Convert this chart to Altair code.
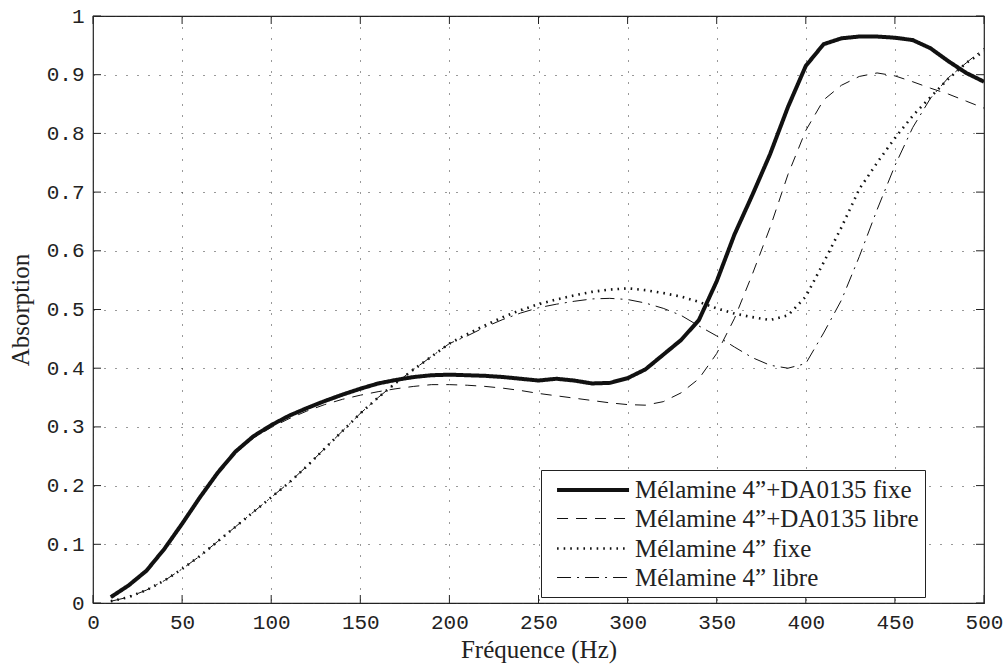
import altair as alt
import pandas as pd

freq = list(range(10, 501, 10))

fixe_da = [0.010, 0.030, 0.055, 0.092, 0.135, 0.180, 0.222, 0.258, 0.284, 0.303,
           0.319, 0.332, 0.344, 0.355, 0.365, 0.374, 0.380, 0.385, 0.388, 0.389,
           0.388, 0.387, 0.385, 0.382, 0.379, 0.382, 0.379, 0.374, 0.375, 0.383,
           0.398, 0.423, 0.448, 0.482, 0.548, 0.628, 0.695, 0.765, 0.845, 0.915,
           0.952, 0.962, 0.965, 0.965, 0.963, 0.959, 0.945, 0.923, 0.903, 0.888]

libre_da = [0.010, 0.030, 0.055, 0.092, 0.135, 0.180, 0.220, 0.255, 0.281, 0.299,
            0.314, 0.327, 0.338, 0.347, 0.354, 0.360, 0.365, 0.369, 0.372, 0.372,
            0.371, 0.369, 0.366, 0.362, 0.357, 0.353, 0.349, 0.345, 0.341, 0.338,
            0.337, 0.343, 0.358, 0.382, 0.425, 0.485, 0.560, 0.640, 0.730, 0.805,
            0.857, 0.882, 0.897, 0.903, 0.898, 0.888, 0.877, 0.867, 0.855, 0.843]

fixe = [0.003, 0.010, 0.022, 0.038, 0.058, 0.080, 0.105, 0.130, 0.155, 0.180,
        0.205, 0.233, 0.263, 0.293, 0.323, 0.350, 0.375, 0.398, 0.420, 0.442,
        0.458, 0.473, 0.487, 0.499, 0.509, 0.517, 0.524, 0.530, 0.534, 0.536,
        0.533, 0.528, 0.522, 0.513, 0.502, 0.493, 0.487, 0.482, 0.490, 0.522,
        0.580, 0.640, 0.705, 0.750, 0.792, 0.830, 0.862, 0.893, 0.920, 0.940]

libre = [0.003, 0.010, 0.022, 0.038, 0.058, 0.080, 0.105, 0.130, 0.155, 0.180,
         0.205, 0.233, 0.263, 0.293, 0.323, 0.350, 0.375, 0.398, 0.420, 0.442,
         0.455, 0.470, 0.483, 0.494, 0.503, 0.509, 0.514, 0.518, 0.519, 0.517,
         0.511, 0.502, 0.490, 0.472, 0.455, 0.436, 0.418, 0.405, 0.400, 0.408,
         0.460, 0.516, 0.590, 0.670, 0.745, 0.810, 0.860, 0.895, 0.920, 0.945]

series_names = ["Mélamine 4\u201d+DA0135 fixe",
                "Mélamine 4\u201d+DA0135 libre",
                "Mélamine 4\u201d  fixe",
                "Mélamine 4\u201d  libre"]

x_ticks = [0, 50, 100, 150, 200, 250, 300, 350, 400, 450, 500]
y_ticks = [0, 0.1, 0.2, 0.3, 0.4, 0.5, 0.6, 0.7, 0.8, 0.9, 1]

rows = []
for name, vals in zip(series_names, [fixe_da, libre_da, fixe, libre]):
    for f, v in zip(freq, vals):
        rows.append({"freq": f, "absorption": v, "series": name})
df = pd.DataFrame(rows)

W, H = 891, 587
mono = "'Liberation Mono'"
serif = "'Liberation Serif'"

x_scale = alt.Scale(domain=[0, 500], nice=False, zero=False)
y_scale = alt.Scale(domain=[0, 1], nice=False)

x_axis = alt.Axis(values=x_ticks, grid=True, gridDash=[1, 10], gridColor="#333",
                  gridWidth=1, ticks=False, domain=False, labelFont=mono,
                  labelFontSize=21, labelColor="#222", labelPadding=8,
                  labelFlush=False, labelOverlap=False,
                  title="Fréquence (Hz)", titleFont=serif, titleFontSize=25,
                  titleFontWeight="normal", titleColor="#222", titlePadding=5,
                  format="d")
y_axis = alt.Axis(values=y_ticks, grid=True, gridDash=[1, 10], gridColor="#333",
                  gridWidth=1, ticks=False, domain=False, labelFont=mono,
                  labelFontSize=21, labelColor="#222", labelPadding=9,
                  labelFlush=False, labelOverlap=False,
                  title="Absorption", titleFont=serif, titleFontSize=25,
                  titleFontWeight="normal", titleColor="#222", titlePadding=13,
                  format=".1~f")

dash_range = [[1, 0], [11, 8], [1.6, 5], [14, 6, 2, 6]]
width_range = [4, 1, 2.6, 1]

lines = alt.Chart(df).mark_line(color="#111", clip=True).encode(
    x=alt.X("freq:Q", scale=x_scale, axis=x_axis),
    y=alt.Y("absorption:Q", scale=y_scale, axis=y_axis),
    strokeDash=alt.StrokeDash("series:N",
                              scale=alt.Scale(type="ordinal", domain=series_names, range=dash_range),
                              sort=series_names, title=None),
    strokeWidth=alt.StrokeWidth("series:N",
                                scale=alt.Scale(type="ordinal", domain=series_names, range=width_range),
                                sort=series_names, title=None),
    detail="series:N",
)

xt = pd.DataFrame({"freq": x_ticks})
yt = pd.DataFrame({"absorption": y_ticks})

bottom_ticks = alt.Chart(xt).mark_rule(color="#222", strokeWidth=1).encode(
    x=alt.X("freq:Q", scale=x_scale, axis=x_axis), y=alt.value(H), y2=alt.value(H - 8))
top_ticks = alt.Chart(xt).mark_rule(color="#222", strokeWidth=1).encode(
    x=alt.X("freq:Q", scale=x_scale, axis=x_axis), y=alt.value(0), y2=alt.value(8))
left_ticks = alt.Chart(yt).mark_rule(color="#222", strokeWidth=1).encode(
    y=alt.Y("absorption:Q", scale=y_scale, axis=y_axis), x=alt.value(0), x2=alt.value(8))
right_ticks = alt.Chart(yt).mark_rule(color="#222", strokeWidth=1).encode(
    y=alt.Y("absorption:Q", scale=y_scale, axis=y_axis), x=alt.value(W), x2=alt.value(W - 8))

chart = alt.layer(bottom_ticks, top_ticks, left_ticks, right_ticks, lines).properties(
    width=W, height=H,
    autosize=alt.AutoSizeParams(type="none"),
    padding={"left": 93, "top": 16, "right": 24, "bottom": 61},
).configure_view(
    stroke="#222", strokeWidth=1.2
).configure_legend(
    orient="none", legendX=448, legendY=454,
    fillColor="white", strokeColor="#222", padding=6, cornerRadius=0,
    symbolType="M-0.33,0H5.67", symbolSize=576, symbolStrokeColor="#111",
    labelFont=serif, labelFontSize=25, labelColor="#222", labelOffset=60,
    rowPadding=3, labelLimit=0,
)

chart.save("out.html", embed_options={"renderer": "svg", "actions": False})
